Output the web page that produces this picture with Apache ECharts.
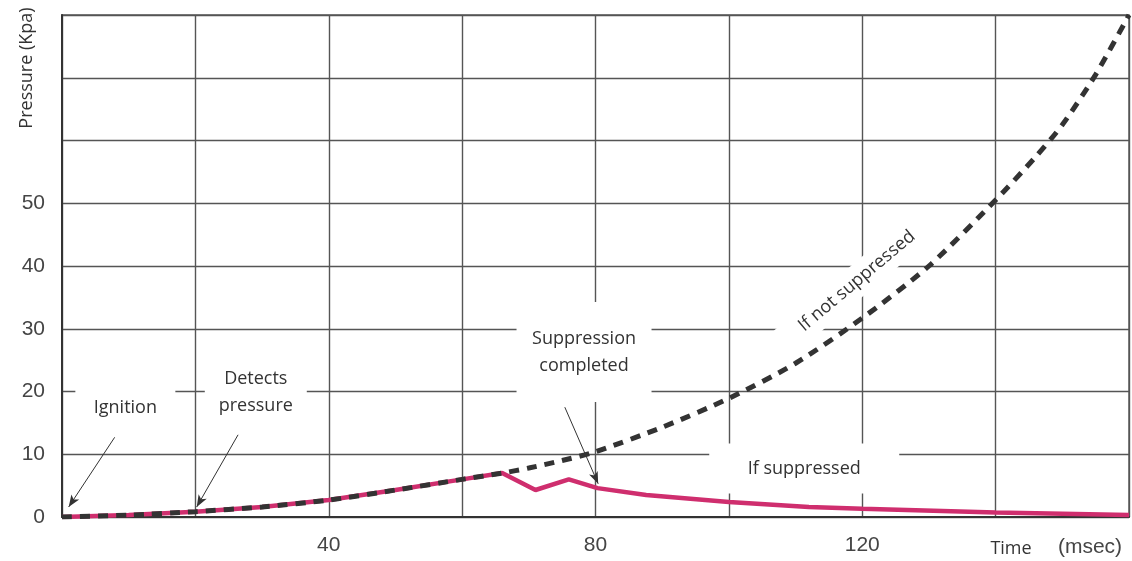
<!DOCTYPE html>
<html>
<head>
<meta charset="utf-8">
<script src="https://cdn.jsdelivr.net/npm/echarts@6/dist/echarts.min.js"></script>
<style>
  html, body { margin: 0; padding: 0; background: #fff; }
  #chart { width: 1132px; height: 561px; }
</style>
</head>
<body>
<div id="chart"></div>
<script>
// pressure if not suppressed (msec / Kpa)
const unsuppressedTime = [0, 10, 20, 30, 40, 50, 60, 66, 70, 75, 80, 90, 100, 110, 120, 130, 140, 146, 150, 155, 160];
const unsuppressedPressure = [0, 0.3, 0.85, 1.6, 2.7, 4.3, 6.0, 7.0, 7.8, 9.0, 10.4, 14.3, 18.9, 24.5, 31.7, 40, 50.5, 57.4, 62.5, 70.5, 80];

// pressure if suppressed
const suppressedTime = [0, 10, 20, 30, 40, 50, 60, 66, 71, 76, 80.3, 87.6, 100, 112, 120, 140, 160];
const suppressedPressure = [0, 0.3, 0.85, 1.6, 2.7, 4.3, 6.0, 7.0, 4.3, 6.0, 4.6, 3.5, 2.4, 1.6, 1.3, 0.7, 0.3];

const xTickLabels = [40, 80, 120];
const yTickLabels = [0, 10, 20, 30, 40, 50];

// annotation boxes and arrows (data coordinates)
const notes = [
  { text: 'Ignition', at: [9.5, 17.45], w: 100, pad: [12, 0, 12, 0] },
  { text: 'Detects\npressure', at: [29.06, 19.84], w: 102, pad: [2, 0, 18, 0] },
  { text: 'Suppression\ncompleted', at: [78.28, 26.29], w: 135, pad: [24, 0, 22, 0] },
  { text: 'If suppressed', at: [111.3, 7.73], w: 190, pad: [11, 0, 12, 0] },
  { text: 'If not suppressed', at: [119.2, 37.6], w: 192, pad: [2, 0, 2, 0], rotate: 40 }
];
const arrows = [
  [[7.9, 12.7], [1.0, 1.6]],
  [[26.4, 13.1], [20.2, 1.6]],
  [[75.4, 17.5], [80.4, 5.3]]
];

const zip = (xs, ys) => xs.map((x, i) => [x, ys[i]]);
const textFont = "'Open Sans', 'Noto Sans', sans-serif";

const chart = echarts.init(document.getElementById('chart'));

chart.setOption({
  animation: false,
  backgroundColor: '#fff',
  grid: {
    left: 62, right: 2, top: 15, bottom: 44,
    show: true, borderColor: '#555', borderWidth: 1.4
  },
  xAxis: {
    type: 'value',
    min: 0, max: 160, interval: 20,
    axisLine: { show: true, lineStyle: { color: '#333', width: 2 } },
    axisTick: { show: false },
    splitLine: { show: true, lineStyle: { color: '#555', width: 1.4 } },
    axisLabel: {
      margin: 18,
      color: '#454545',
      fontSize: 21,
      fontFamily: "'Liberation Sans', Arial, sans-serif",
      formatter: v => xTickLabels.includes(v) ? String(v) : ''
    }
  },
  yAxis: {
    type: 'value',
    min: 0, max: 80, interval: 10,
    axisLine: { show: true, lineStyle: { color: '#333', width: 2 } },
    axisTick: { show: false },
    splitLine: { show: true, lineStyle: { color: '#555', width: 1.4 } },
    axisLabel: {
      margin: 17,
      color: '#454545',
      fontSize: 21,
      fontFamily: "'Liberation Sans', Arial, sans-serif",
      formatter: v => yTickLabels.includes(v) ? String(v) : ''
    }
  },
  series: [
    {
      name: 'If suppressed',
      type: 'line',
      data: zip(suppressedTime, suppressedPressure),
      showSymbol: false,
      lineStyle: { color: '#cf2e6e', width: 4.5 },
      z: 2
    },
    {
      name: 'If not suppressed',
      type: 'line',
      data: zip(unsuppressedTime, unsuppressedPressure),
      showSymbol: false,
      smooth: 0.25,
      lineStyle: { color: '#333', width: 5, type: [10, 8] },
      z: 3,
      markLine: {
        silent: true,
        symbol: ['none', 'arrow'],
        symbolSize: [7, 12],
        label: { show: false },
        lineStyle: { color: '#333', width: 1, type: 'solid' },
        data: arrows.map(a => [{ coord: a[0] }, { coord: a[1] }])
      },
      markPoint: {
        silent: true,
        symbol: 'rect',
        symbolSize: 1,
        itemStyle: { color: 'rgba(0,0,0,0)' },
        data: notes.map(n => ({
          coord: n.at,
          label: {
            show: true,
            position: 'inside',
            formatter: n.text,
            backgroundColor: '#fff',
            width: n.w,
            padding: n.pad,
            align: 'center',
            verticalAlign: 'middle',
            lineHeight: 27,
            fontSize: 18,
            fontFamily: textFont,
            color: '#333',
            rotate: n.rotate || 0
          }
        }))
      }
    }
  ],
  graphic: [
    {
      type: 'text',
      x: 27, y: 68,
      rotation: Math.PI / 2,
      style: {
        text: 'Pressure (Kpa)',
        fontSize: 18, fontFamily: textFont, fill: '#333',
        align: 'center', verticalAlign: 'middle'
      }
    },
    {
      type: 'text',
      x: 1011, y: 549,
      style: {
        text: 'Time',
        fontSize: 18, fontFamily: textFont, fill: '#333',
        align: 'center', verticalAlign: 'middle'
      }
    },
    {
      type: 'text',
      x: 1090, y: 547,
      style: {
        text: '(msec)',
        fontSize: 21, fontFamily: "'Liberation Sans', Arial, sans-serif", fill: '#454545',
        align: 'center', verticalAlign: 'middle'
      }
    }
  ]
});
</script>
</body>
</html>
